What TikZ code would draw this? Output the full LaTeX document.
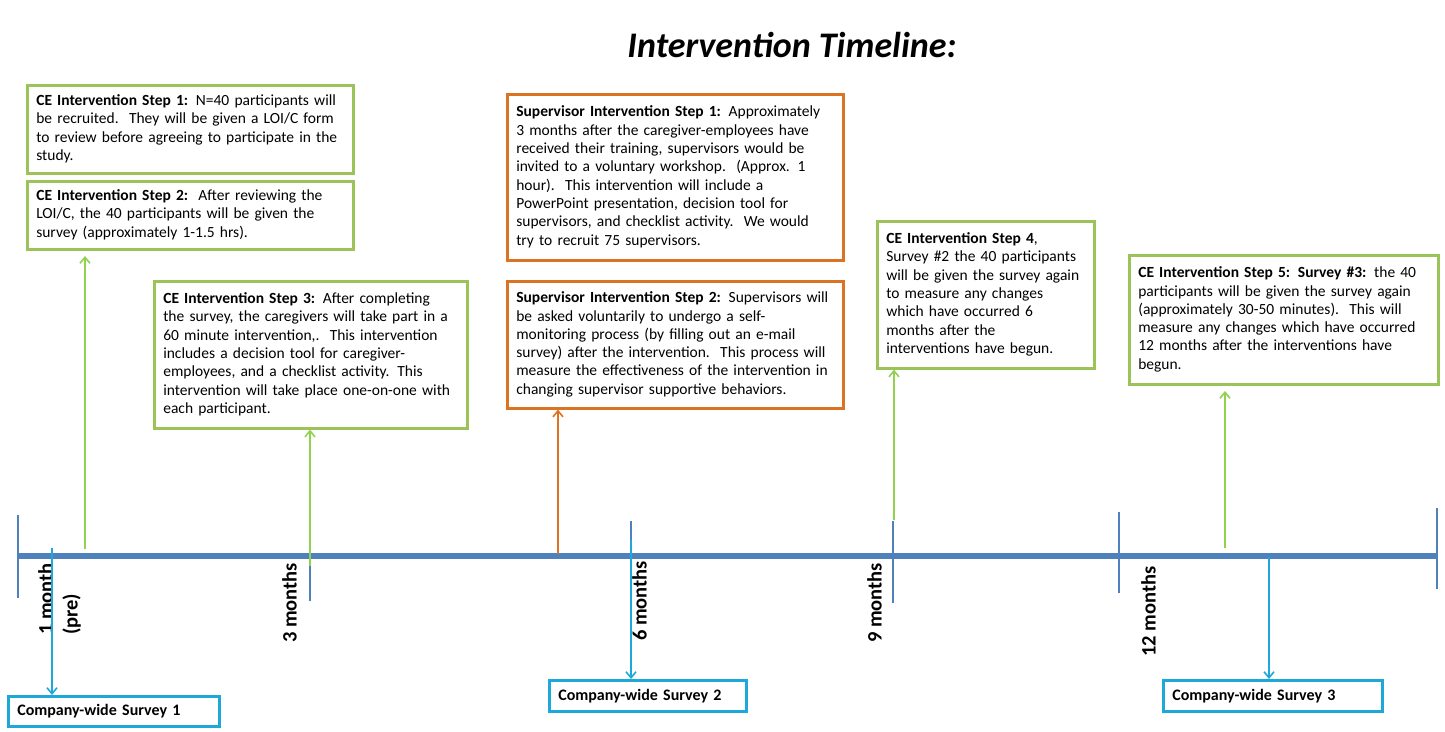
\documentclass[tikz,border=0pt]{standalone}
\usepackage{fontspec}
\setmainfont{Carlito}
\usetikzlibrary{arrows.meta}
\definecolor{axisblue}{RGB}{79,129,189}
\definecolor{boxgreen}{RGB}{155,195,89}
\definecolor{arrgreen}{RGB}{146,208,80}
\definecolor{suporange}{RGB}{220,115,35}
\definecolor{survcyan}{RGB}{30,168,218}
\newcommand{\blines}[1]{\begin{tabular}{@{}l@{}}#1\end{tabular}}
\tikzset{
  stepbox/.style={draw=boxgreen, line width=2.6pt, fill=white, anchor=north west,
    align=left, inner xsep=9pt, inner ysep=0pt,
    font=\fontsize{15.5}{18.3}\selectfont},
  supbox/.style={stepbox, draw=suporange},
  survbox/.style={draw=survcyan, line width=2.6pt, fill=white, anchor=north west,
    align=left, inner xsep=9pt, inner ysep=0pt,
    font=\bfseries\fontsize{16}{18}\selectfont},
  tickline/.style={draw=axisblue, line width=2.6pt},
  monthlbl/.style={rotate=90, anchor=north west, align=left, inner sep=0pt,
    font=\bfseries\fontsize{20.5}{25}\selectfont},
  garrow/.style={draw=arrgreen, line width=1.6pt, -{Straight Barb[length=6pt,width=10pt]}},
  oarrow/.style={draw=suporange, line width=1.6pt, -{Straight Barb[length=6pt,width=10pt]}},
  carrow/.style={draw=survcyan, line width=1.6pt, -{Straight Barb[length=6pt,width=10pt]}},
}
\begin{document}
\begin{tikzpicture}[x=1pt,y=-1pt]
\useasboundingbox (0,0) rectangle (1445,731);
% title
\node[font=\bfseries\itshape\fontsize{36}{40}\selectfont, anchor=base] (title) at (792,57) {Intervention Timeline:};
% axis
\coordinate (axL) at (18,556);
\coordinate (axR) at (1438,556);
\draw[draw=axisblue, line width=5.5pt] (axL) -- (axR);
\coordinate (t0a) at (18,515); \coordinate (t0b) at (18,598);
\coordinate (t3a) at (310,518); \coordinate (t3b) at (310,601);
\coordinate (t6a) at (631,521); \coordinate (t6b) at (631,603);
\coordinate (t9a) at (893,521); \coordinate (t9b) at (893,603);
\coordinate (t12a) at (1119,512); \coordinate (t12b) at (1119,593);
\coordinate (tEa) at (1437,508); \coordinate (tEb) at (1437,589);
\path[tickline] (t0a) -- (t0b);
\path[tickline] (t3a) -- (t3b);
\path[tickline] (t6a) -- (t6b);
\path[tickline] (t9a) -- (t9b);
\path[tickline] (t12a) -- (t12b);
\path[tickline] (tEa) -- (tEb);
% month labels
\node[monthlbl] (m1) at (38,635) {1 month\\(pre)};
\node[monthlbl] (m3) at (282,643) {3 months};
\node[monthlbl] (m6) at (632,641) {6 months};
\node[monthlbl] (m9) at (867,643) {9 months};
\node[monthlbl] (m12) at (1141,657) {12 months};
% boxes
\node[stepbox, minimum width=326pt, minimum height=88pt, text width=308pt] (ce1) at (26,84)
 {\blines{\textbf{CE Intervention Step 1:} N=40 participants will\\be recruited.\ \ They will be given a LOI/C form\\to review before agreeing to participate in the\\study.}};
\node[stepbox, minimum width=326pt, minimum height=68pt, text width=308pt] (ce2) at (26,180)
 {\blines{\textbf{CE Intervention Step 2:}\ \ After reviewing the\\LOI/C, the 40 participants will be given the\\survey (approximately 1-1.5 hrs).}};
\node[stepbox, minimum width=313pt, minimum height=147pt, text width=295pt] (ce3) at (153,280)
 {\blines{\textbf{CE Intervention Step 3:} After completing\\the survey, the caregivers will take part in a\\60 minute intervention,.\ \ This intervention\\includes a decision tool for caregiver-\\employees, and a checklist activity. This\\intervention will take place one-on-one with\\each participant.}};
\node[supbox, minimum width=336pt, minimum height=166pt, text width=318pt] (s1) at (506,93)
 {\blines{\textbf{Supervisor Intervention Step 1:} Approximately\\3 months after the caregiver-employees have\\received their training, supervisors would be\\invited to a voluntary workshop.\ \ (Approx. 1\\hour).\ \ This intervention will include a\\PowerPoint presentation, decision tool for\\supervisors, and checklist activity.\ \ We would\\try to recruit 75 supervisors.}};
\node[supbox, minimum width=336pt, minimum height=127pt, text width=318pt] (s2) at (506,280)
 {\blines{\textbf{Supervisor Intervention Step 2:} Supervisors will\\be asked voluntarily to undergo a self-\\monitoring process (by filling out an e-mail\\survey) after the intervention.\ \ This process will\\measure the effectiveness of the intervention in\\changing supervisor supportive behaviors.}};
\node[stepbox, minimum width=217pt, minimum height=147pt, text width=199pt] (ce4) at (876,220)
 {\blines{\textbf{CE Intervention Step 4},\\Survey \#2 the 40 participants\\will be given the survey again\\to measure any changes\\which have occurred 6\\months after the\\interventions have begun.}};
\node[stepbox, minimum width=309pt, minimum height=129pt, text width=291pt] (ce5) at (1128,254)
 {\blines{\textbf{CE Intervention Step 5: Survey \#3:} the 40\\participants will be given the survey again\\(approximately 30-50 minutes).\ \ This will\\measure any changes which have occurred\\12 months after the interventions have\\begun.}};
% survey boxes
\node[survbox, minimum width=211pt, minimum height=30pt, text width=193pt] (cs1) at (7,695) {Company-wide Survey 1};
\node[survbox, minimum width=197pt, minimum height=31pt, text width=179pt] (cs2) at (548,679) {Company-wide Survey 2};
\node[survbox, minimum width=219pt, minimum height=31pt, text width=201pt] (cs3) at (1162,679) {Company-wide Survey 3};
% arrows
\coordinate (g1) at (85,549);
\coordinate (g3) at (310,566);
\coordinate (o1) at (558,554);
\coordinate (g4) at (894,520);
\coordinate (g5) at (1225,548);
\draw[garrow] (g1) -- (85,256);
\draw[garrow] (g3) -- (ce3.south -| g3);
\draw[oarrow] (o1) -- (s2.south -| o1);
\draw[garrow] (g4) -- (ce4.south -| g4);
\draw[garrow] (g5) -- (1225,391);
\coordinate (c1) at (52,548);
\coordinate (c2) at (631,540);
\coordinate (c3) at (1269,557);
\draw[carrow] (c1) -- (cs1.north -| c1);
\draw[carrow] (c2) -- (cs2.north -| c2);
\draw[carrow] (c3) -- (cs3.north -| c3);
\end{tikzpicture}
\end{document}
